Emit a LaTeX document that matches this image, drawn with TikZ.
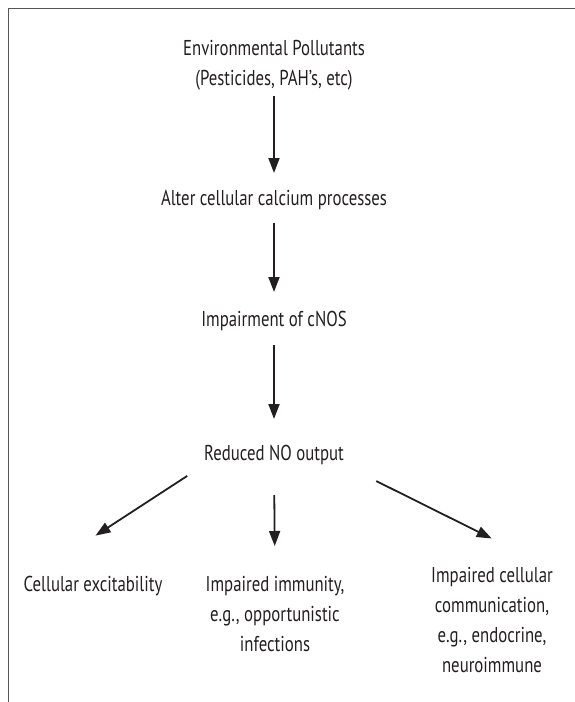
\documentclass[tikz,border=0pt]{standalone}
\usepackage{fontspec}
\setmainfont{PT Sans}[FakeStretch=0.78]
\usetikzlibrary{arrows.meta,positioning}
\definecolor{InkGray}{HTML}{231F20}
\definecolor{FrameGray}{HTML}{555555}
\tikzset{
  % plain text label
  TX/.style={align=center,inner sep=0pt,text=InkGray,
             font=\fontsize{21.5}{30}\selectfont},
  % arrow
  arr/.style={-{Triangle[length=15pt,width=11pt]},line width=1.8pt,draw=InkGray},
  % frame line
  frm/.style={line width=1pt,draw=FrameGray}
}
\begin{document}
\begin{tikzpicture}[x=1pt,y=-1pt]
  \useasboundingbox (0,0) rectangle (575,702);
  \draw[frm] (575,8) -- (8,8) -- (8,702);

  \node[TX] (pollut)  at (274,65)  {Environmental Pollutants\\(Pesticides, PAH’s, etc)};
  \node[TX] (calcium) at (274,200) {Alter cellular calcium processes};
  \node[TX] (cnos)    at (274,321) {Impairment of cNOS};
  \node[TX] (nout)    at (274,455) {Reduced NO output};
  \node[TX,anchor=north] (excit)  at (93,576)  {Cellular excitability};
  \node[TX,anchor=north] (immun)  at (275,576) {Impaired immunity,\\e.g., opportunistic\\infections};
  \node[TX,anchor=north] (commun) at (492,567) {Impaired cellular\\communication,\\e.g., endocrine,\\neuroimmune};

  \draw[arr,shorten <=6pt,shorten >=17pt] (pollut) -- (calcium);
  \draw[arr,shorten <=13pt,shorten >=19pt] (calcium) -- (cnos);
  \draw[arr,shorten <=14pt,shorten >=26pt] (cnos) -- (nout);
  \draw[arr,shorten <=20pt,shorten >=74pt] (nout.south west) -- ([xshift=10pt]excit.north west);
  \draw[arr,shorten <=30pt,shorten >=30pt] (nout.south) -- (immun.north);
  \draw[arr,shorten <=36pt,shorten >=64pt] (nout.south east) -- ([xshift=-4pt]commun.north east);
\end{tikzpicture}
\end{document}
